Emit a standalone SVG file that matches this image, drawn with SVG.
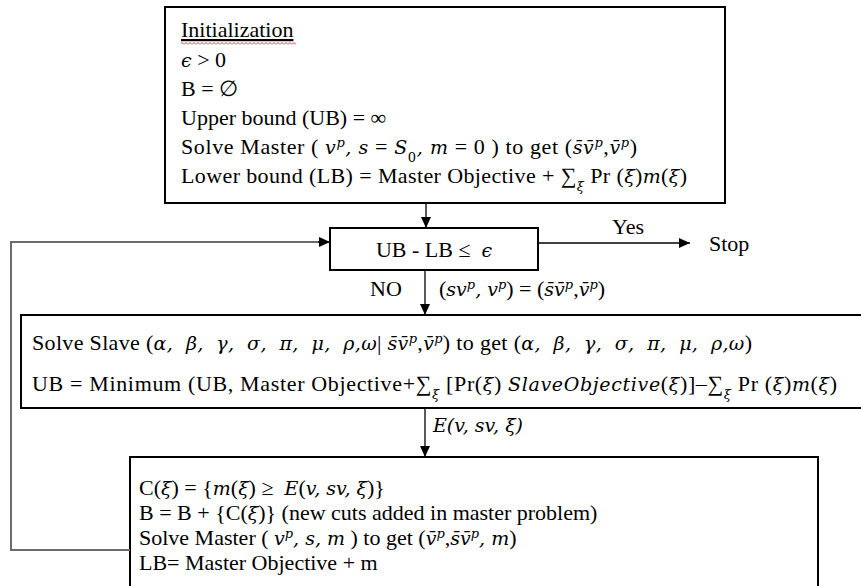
<svg xmlns="http://www.w3.org/2000/svg" width="861" height="586" viewBox="0 0 861 586" font-family="'Liberation Serif', 'Times New Roman', serif">
<style>
text{font-family:"Liberation Serif","Times New Roman",serif;font-size:22px;fill:#000}
.m{font-family:"DejaVu Serif",serif;font-style:italic;font-size:19px}
.u{font-family:"DejaVu Serif",serif;font-size:13px}
.box{fill:#fff;stroke:#000;stroke-width:2}
.ln{fill:none;stroke:#000;stroke-width:1.3}
.fb{fill:none;stroke:#6b6b6b;stroke-width:2}
.sup{font-size:13px}
</style>
<defs>
<marker id="ah" markerUnits="userSpaceOnUse" markerWidth="12" markerHeight="10" refX="11" refY="5" orient="auto">
<path d="M0,0 L11,5 L0,10 z" fill="#000"/>
</marker>
<pattern id="wavy" patternUnits="userSpaceOnUse" width="4" height="3">
<path d="M0,2.5 L2,0.5 L4,2.5" fill="none" stroke="#d22" stroke-width="0.9"/>
</pattern>
</defs>
<rect width="861" height="586" fill="#fff"/>

<g id="n-init">
<rect class="box" x="165" y="7" width="560" height="196"/>
<text x="181" y="37" style="text-decoration:underline">Initialization</text>
<rect x="181" y="42" width="115" height="3" fill="url(#wavy)"/>
<text x="181" y="67"><tspan class="m">ϵ</tspan> &gt; 0</text>
<text x="181" y="96">B = ∅</text>
<text x="181" y="125">Upper bound (UB) = ∞</text>
<text x="181" y="154" textLength="456" lengthAdjust="spacing">Solve Master ( <tspan class="m">v</tspan><tspan class="m sup" baseline-shift="super">p</tspan><tspan class="m">, s</tspan> = <tspan class="m">S</tspan><tspan class="u" baseline-shift="sub">0</tspan><tspan class="m">, m</tspan> = 0 ) to get (<tspan class="m">s̄v̄</tspan><tspan class="m sup" baseline-shift="super">p</tspan>,<tspan class="m">v̄</tspan><tspan class="m sup" baseline-shift="super">p</tspan>)</text>
<text x="181" y="183" textLength="506" lengthAdjust="spacing">Lower bound (LB) = Master Objective + ∑<tspan class="m sup" baseline-shift="sub">ξ</tspan> Pr (<tspan class="m">ξ</tspan>)<tspan class="m">m</tspan>(<tspan class="m">ξ</tspan>)</text>
</g>

<g id="n-check">
<rect class="box" x="330" y="228" width="208" height="42"/>
<text x="434" y="257" text-anchor="middle" xml:space="preserve">UB - LB ≤  <tspan class="m">ϵ</tspan></text>
</g>

<g id="n-stop">
<text x="709" y="251">Stop</text>
</g>

<g id="n-slave">
<rect class="box" x="21" y="315" width="860" height="93"/>
<text x="32" y="350" textLength="720" lengthAdjust="spacing" xml:space="preserve">Solve Slave (<tspan class="m">α,  β,  γ,  σ,  π,  μ,  ρ,ω</tspan>| <tspan class="m">s̄v̄</tspan><tspan class="m sup" baseline-shift="super">p</tspan>,<tspan class="m">v̄</tspan><tspan class="m sup" baseline-shift="super">p</tspan>) to get (<tspan class="m">α,  β,  γ,  σ,  π,  μ,  ρ,ω</tspan>)</text>
<text x="32" y="391" textLength="805" lengthAdjust="spacing">UB = Minimum (UB, Master Objective+∑<tspan class="m sup" baseline-shift="sub">ξ</tspan> [Pr(<tspan class="m">ξ</tspan>) <tspan class="m">SlaveObjective</tspan>(<tspan class="m">ξ</tspan>)]–∑<tspan class="m sup" baseline-shift="sub">ξ</tspan> Pr (<tspan class="m">ξ</tspan>)<tspan class="m">m</tspan>(<tspan class="m">ξ</tspan>)</text>
</g>

<g id="n-master">
<rect class="box" x="130" y="457" width="688" height="150"/>
<text x="139" y="495" xml:space="preserve">C(<tspan class="m">ξ</tspan>) = {<tspan class="m">m</tspan>(<tspan class="m">ξ</tspan>) ≥  <tspan class="m">E</tspan>(<tspan class="m">v, sv, ξ</tspan>)}</text>
<text x="139" y="520">B = B + {C(<tspan class="m">ξ</tspan>)} (new cuts added in master problem)</text>
<text x="139" y="545">Solve Master ( <tspan class="m">v</tspan><tspan class="m sup" baseline-shift="super">p</tspan><tspan class="m">, s, m</tspan> ) to get (<tspan class="m">v̄</tspan><tspan class="m sup" baseline-shift="super">p</tspan>,<tspan class="m">s̄v̄</tspan><tspan class="m sup" baseline-shift="super">p</tspan><tspan class="m">, m</tspan>)</text>
<text x="139" y="570">LB= Master Objective + m</text>
</g>

<g id="connectors">
<line class="ln" x1="426" y1="203" x2="426" y2="228" marker-end="url(#ah)"/>
<line class="ln" x1="538" y1="243" x2="690" y2="243" marker-end="url(#ah)"/>
<text x="612" y="234">Yes</text>
<line class="ln" x1="425" y1="270" x2="425" y2="315" marker-end="url(#ah)"/>
<text x="370" y="296">NO</text>
<text x="439" y="296">(<tspan class="m">sv</tspan><tspan class="m sup" baseline-shift="super">p</tspan><tspan class="m">, v</tspan><tspan class="m sup" baseline-shift="super">p</tspan>) = (<tspan class="m">s̄v̄</tspan><tspan class="m sup" baseline-shift="super">p</tspan>,<tspan class="m">v̄</tspan><tspan class="m sup" baseline-shift="super">p</tspan>)</text>
<line class="ln" x1="425" y1="408" x2="425" y2="457" marker-end="url(#ah)"/>
<text x="433" y="432" class="m">E(v, sv, ξ)</text>
<polyline class="fb" points="130,550 11,550 11,242 319,242"/>
<line class="ln" x1="318" y1="242" x2="330" y2="242" marker-end="url(#ah)"/>
</g>
</svg>
